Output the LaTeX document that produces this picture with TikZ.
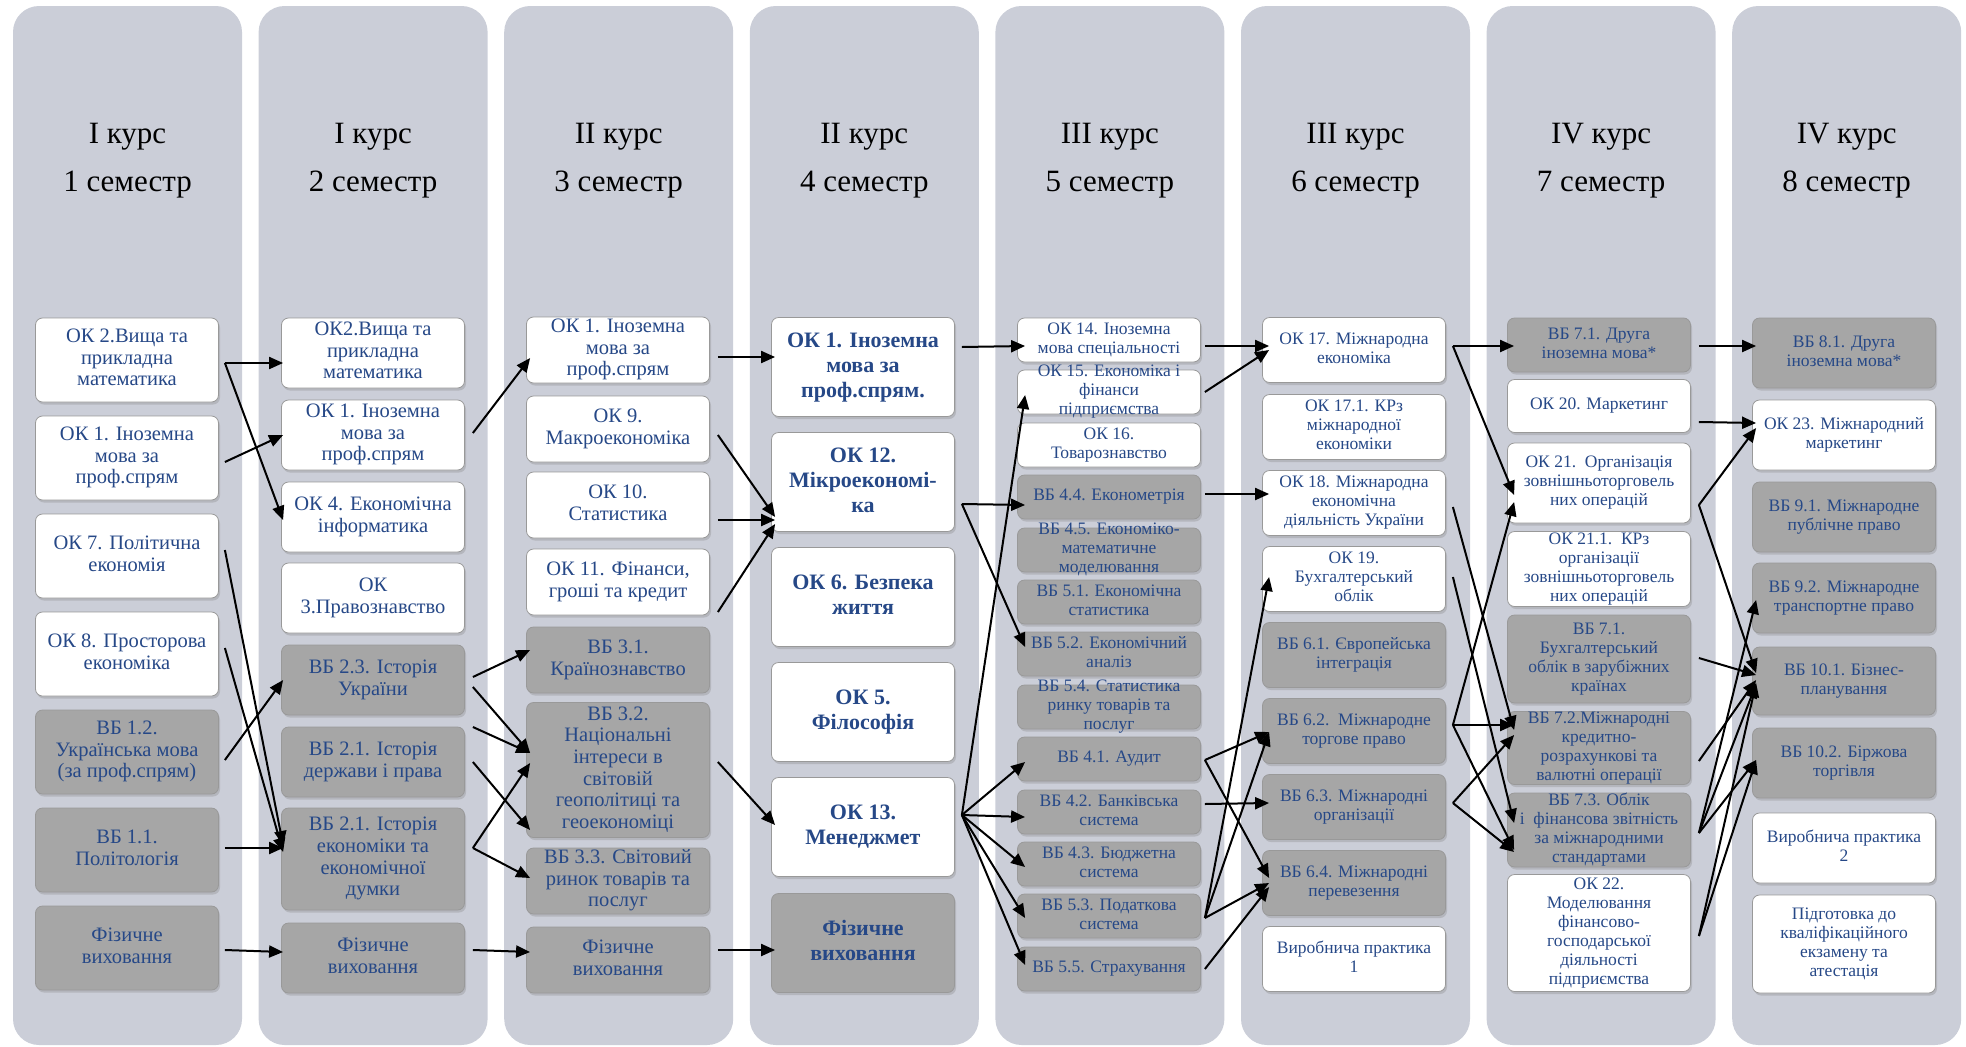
\documentclass[tikz,border=0pt]{standalone}
\usepackage{fontspec}
\setmainfont{Liberation Serif}
\usetikzlibrary{arrows.meta,calc,shadows}
\definecolor{panelgray}{RGB}{203,206,216}
\definecolor{boxgray}{RGB}{166,166,166}
\definecolor{txtblue}{RGB}{38,72,135}
\newcommand\lns[1]{\makebox[0pt]{\smash{\raisebox{-.25em}{\begin{tabular}{@{}c@{}}#1\end{tabular}}}}}

\begin{document}
\begin{tikzpicture}[x=1pt,y=-1pt,
  panel/.style={fill=panelgray,rounded corners=26pt},
  head/.style={align=center,font=\fontsize{31}{48}\selectfont},
  kbox/.style={draw=black!40,line width=0.8pt,rounded corners=7pt,inner sep=0pt,
    minimum width=183pt,text=txtblue,drop shadow={opacity=0.3,shadow xshift=1.5pt,shadow yshift=-2.5pt}},
  wb/.style={kbox,fill=white},
  gb/.style={kbox,fill=boxgray},
  big/.style={font=\fontsize{20.5}{21.7}\selectfont},
  bold/.style={font=\fontsize{22}{25}\bfseries\selectfont},
  small/.style={font=\fontsize{17.5}{19}\selectfont},
  ar/.style={-{Triangle[length=14pt,width=12pt]},line width=2pt}]
\useasboundingbox (0,0) rectangle (1966,1047);
\foreach \i in {0,...,7}
  \fill[panel] (13+245.6*\i,6) rectangle ++(229,1039);
\foreach \i/\r in {1/I,2/I,3/II,4/II,5/III,6/III,7/IV,8/IV}
  \node[head] (hd\i) at (127.5+245.6*\i-245.6,161) {\r\ курс\\\i\ семестр};

\begin{scope}[every node/.append style={big,minimum height=84pt}]
\node[wb] (a1) at (127,360) {\lns{ОК 2.Вища та\\прикладна\\математика}};
\node[wb] (a2) at (127,458) {\lns{ОК 1. Іноземна\\мова за\\проф.спрям}};
\node[wb] (a3) at (127,556) {\lns{ОК 7. Політична\\економія}};
\node[wb] (a4) at (127,654) {\lns{ОК 8. Просторова\\економіка}};
\node[gb] (a5) at (127,752) {\lns{ВБ 1.2.\\Українська мова\\(за проф.спрям)}};
\node[gb] (a6) at (127,850) {\lns{ВБ 1.1.\\Політологія}};
\node[gb] (a7) at (127,948) {\lns{Фізичне\\виховання}};
\end{scope}

\begin{scope}[every node/.append style={big,minimum height=70pt}]
\node[wb] (b1) at (373,353) {\lns{ОК2.Вища та\\прикладна\\математика}};
\node[wb] (b2) at (373,435) {\lns{ОК 1. Іноземна\\мова за\\проф.спрям}};
\node[wb] (b3) at (373,517) {\lns{ОК 4. Економічна\\інформатика}};
\node[wb] (b4) at (373,598) {\lns{ОК\\3.Правознавство}};
\node[gb] (b5) at (373,680) {\lns{ВБ 2.3. Історія\\України}};
\node[gb] (b6) at (373,762) {\lns{ВБ 2.1. Історія\\держави і права}};
\node[gb,minimum height=102pt] (b7) at (373,859) {\lns{ВБ 2.1. Історія\\економіки та\\економічної\\думки}};
\node[gb] (b8) at (373,958) {\lns{Фізичне\\виховання}};
\end{scope}

\begin{scope}[every node/.append style={big,minimum height=66pt}]
\node[wb] (c1) at (618,350) {\lns{ОК 1. Іноземна\\мова за\\проф.спрям}};
\node[wb] (c2) at (618,429) {\lns{ОК 9.\\Макроекономіка}};
\node[wb] (c3) at (618,505) {\lns{ОК 10.\\Статистика}};
\node[wb] (c4) at (618,582) {\lns{ОК 11. Фінанси,\\гроші та кредит}};
\node[gb] (c5) at (618,660) {\lns{ВБ 3.1.\\Країнознавство}};
\node[gb,minimum height=135pt] (c6) at (618,770) {\lns{ВБ 3.2.\\Національні\\інтереси в\\світовій\\геополітиці та\\геоекономіці}};
\node[gb] (c7) at (618,881) {\lns{ВБ 3.3. Світовий\\ринок товарів та\\послуг}};
\node[gb] (c8) at (618,960) {\lns{Фізичне\\виховання}};
\end{scope}

\begin{scope}[every node/.append style={bold,minimum height=99pt}]
\node[wb] (d1) at (863,367) {\lns{ОК 1. Іноземна\\мова за\\проф.спрям.}};
\node[wb] (d2) at (863,482) {\lns{ОК 12.\\Мікроекономі-\\ка}};
\node[wb] (d3) at (863,597) {\lns{ОК 6. Безпека\\життя}};
\node[wb] (d4) at (863,712) {\lns{ОК 5.\\Філософія}};
\node[wb] (d5) at (863,827) {\lns{ОК 13.\\Менеджмет}};
\node[gb] (d6) at (863,943) {\lns{Фізичне\\виховання}};
\end{scope}

\begin{scope}[every node/.append style={small,minimum height=44pt}]
\node[wb] (e1) at (1109,340) {\lns{ОК 14. Іноземна\\мова спеціальності}};
\node[wb] (e2) at (1109,392) {\lns{ОК 15. Економіка і\\фінанси\\підприємства}};
\node[wb] (e3) at (1109,445) {\lns{ОК 16.\\Товарознавство}};
\node[gb] (e4) at (1109,497) {\lns{ВБ 4.4. Економетрія}};
\node[gb] (e5) at (1109,550) {\lns{ВБ 4.5. Економіко-\\математичне\\моделювання}};
\node[gb] (e6) at (1109,602) {\lns{ВБ 5.1. Економічна\\статистика}};
\node[gb] (e7) at (1109,654) {\lns{ВБ 5.2. Економічний\\аналіз}};
\node[gb] (e8) at (1109,707) {\lns{ВБ 5.4. Статистика\\ринку товарів та\\послуг}};
\node[gb] (e9) at (1109,759) {\lns{ВБ 4.1. Аудит}};
\node[gb] (e10) at (1109,812) {\lns{ВБ 4.2. Банківська\\система}};
\node[gb] (e11) at (1109,864) {\lns{ВБ 4.3. Бюджетна\\система}};
\node[gb] (e12) at (1109,916) {\lns{ВБ 5.3. Податкова\\система}};
\node[gb] (e13) at (1109,969) {\lns{ВБ 5.5. Страхування}};
\end{scope}

\begin{scope}[every node/.append style={small,minimum height=65pt}]
\node[wb] (f1) at (1354,350) {\lns{ОК 17. Міжнародна\\економіка}};
\node[wb] (f2) at (1354,427) {\lns{ОК 17.1. КРз\\міжнародної\\економіки}};
\node[wb] (f3) at (1354,503) {\lns{ОК 18. Міжнародна\\економічна\\діяльність України}};
\node[wb] (f4) at (1354,579) {\lns{ОК 19.\\Бухгалтерський\\облік}};
\node[gb] (f5) at (1354,655) {\lns{ВБ 6.1. Європейська\\інтеграція}};
\node[gb] (f6) at (1354,731) {\lns{ВБ 6.2.\ \ Міжнародне\\торгове право}};
\node[gb] (f7) at (1354,807) {\lns{ВБ 6.3. Міжнародні\\організації}};
\node[gb] (f8) at (1354,883) {\lns{ВБ 6.4. Міжнародні\\перевезення}};
\node[wb] (f9) at (1354,959) {\lns{Виробнича практика\\1}};
\end{scope}

\begin{scope}[every node/.append style={small,minimum width=182pt}]
\node[gb,minimum height=54pt] (g1) at (1599,345) {\lns{ВБ 7.1. Друга\\іноземна мова*}};
\node[wb,minimum height=53pt] (g2) at (1599,406) {\lns{ОК 20. Маркетинг}};
\node[wb,minimum height=80pt] (g3) at (1599,483) {\lns{ОК 21.\ \ Організація\\зовнішньоторговель\\них операцій}};
\node[wb,minimum height=75pt] (g4) at (1599,569) {\lns{ОК 21.1.\ \ КРз\\організації\\зовнішньоторговель\\них операцій}};
\node[gb,minimum height=88pt] (g5) at (1599,659) {\lns{ВБ 7.1.\\Бухгалтерський\\облік в зарубіжних\\країнах}};
\node[gb,minimum height=73pt] (g6) at (1599,748) {\lns{ВБ 7.2.Міжнародні\\кредитно-\\розрахункові та\\валютні операції}};
\node[gb,minimum height=74pt] (g7) at (1599,830) {\lns{ВБ 7.3. Облік\\і\ \ фінансова звітність\\за міжнародними\\стандартами}};
\node[wb,minimum height=117pt] (g8) at (1599,933) {\lns{ОК 22.\\Моделювання\\фінансово-\\господарської\\діяльності\\підприємства}};
\end{scope}

\begin{scope}[every node/.append style={small,minimum width=182pt,minimum height=70pt}]
\node[gb] (h1) at (1844,353) {\lns{ВБ 8.1. Друга\\іноземна мова*}};
\node[wb] (h2) at (1844,435) {\lns{ОК 23. Міжнародний\\маркетинг}};
\node[gb] (h3) at (1844,517) {\lns{ВБ 9.1. Міжнародне\\публічне право}};
\node[gb] (h4) at (1844,598) {\lns{ВБ 9.2. Міжнародне\\транспортне право}};
\node[gb,minimum height=68pt] (h5) at (1844,681) {\lns{ВБ 10.1. Бізнес-\\планування}};
\node[gb] (h6) at (1844,763) {\lns{ВБ 10.2. Біржова\\торгівля}};
\node[wb] (h7) at (1844,848) {\lns{Виробнича практика\\2}};
\node[wb,minimum height=98pt] (h8) at (1844,944) {\lns{Підготовка до\\кваліфікаційного\\екзамену та\\атестація}};
\end{scope}

\foreach \src/\dy/\tgt/\ty in {a1/3/b1/10,a1/3/b3/3,a2/4/b2/0,a3/-6/b7/-14,a4/-6/b7/-7,a5/8/b5/0,a6/-2/b7/-11,a7/2/b8/-6}
  \draw[ar] ($(\src.east)+(6,\dy)$) -- ($(\tgt.west)+(2,\ty)$);
\foreach \src/\dy/\tgt/\ty in {b2/-2/c1/8,b5/-3/c5/-10,b5/7/c6/-17,b6/-35/c6/-17,b6/0/c6/60,b7/-11/c6/-7,b7/-11/c7/-3,b8/-8/c8/-8}
  \draw[ar] ($(\src.east)+(8,\dy)$) -- ($(\tgt.west)+(4,\ty)$);
\foreach \src/\dy/\tgt/\ty in {c1/7/d1/-10,c2/6/d2/35,c3/15/d2/38,c4/30/d2/42,c6/-8/d5/-2,c8/-10/d6/7}
  \draw[ar] ($(\src.east)+(8,\dy)$) -- ($(\tgt.west)+(4,\ty)$);
\foreach \src/\dy/\tgt/\ty in {d1/-20/e1/6,d2/22/e4/8,d2/22/e7/-7,d5/-12/e2/3,d5/-12/e9/3,d5/-12/e10/5,d5/-12/e11/3,d5/-12/e12/2,d5/-12/e13/-4}
  \draw[ar] ($(\src.east)+(7,\dy)$) -- ($(\tgt.west)+(8,\ty)$);
\foreach \src/\dy/\tgt/\ty in {e1/6/f1/-4,e2/0/f1/0,e4/-3/f3/-9,e12/2/f4/-2,e12/2/f6/1,e12/2/f8/0,e9/1/f6/1,e9/1/f8/-5,e10/-8/f7/-4,e13/0/f8/4}
  \draw[ar] ($(\src.east)+(4,\dy)$) -- ($(\tgt.west)+(7,\ty)$);
\foreach \src/\dy/\tgt/\ty in {f1/-4/g1/1,f1/-4/g3/12,f3/4/g6/-18,f4/-2/g7/-7,f6/-6/g3/19,f6/-6/g6/-23,f6/-6/g7/20,f7/-4/g6/-13,f7/-4/g7/22}
  \draw[ar] ($(\src.east)+(7,\dy)$) -- ($(\tgt.west)+(7,\ty)$);
\foreach \src/\dy/\tgt/\ty in {g1/1/h1/-7,g2/16/h2/-12,g3/22/h2/-7,g3/22/h5/-8,g5/-1/h5/-6,g6/13/h5/-1,g7/3/h4/2,g7/3/h5/3,g7/3/h6/-3,g8/3/h5/2,g8/3/h6/-3}
  \draw[ar] ($(\src.east)+(8,\dy)$) -- ($(\tgt.west)+(4,\ty)$);
\end{tikzpicture}
\end{document}
